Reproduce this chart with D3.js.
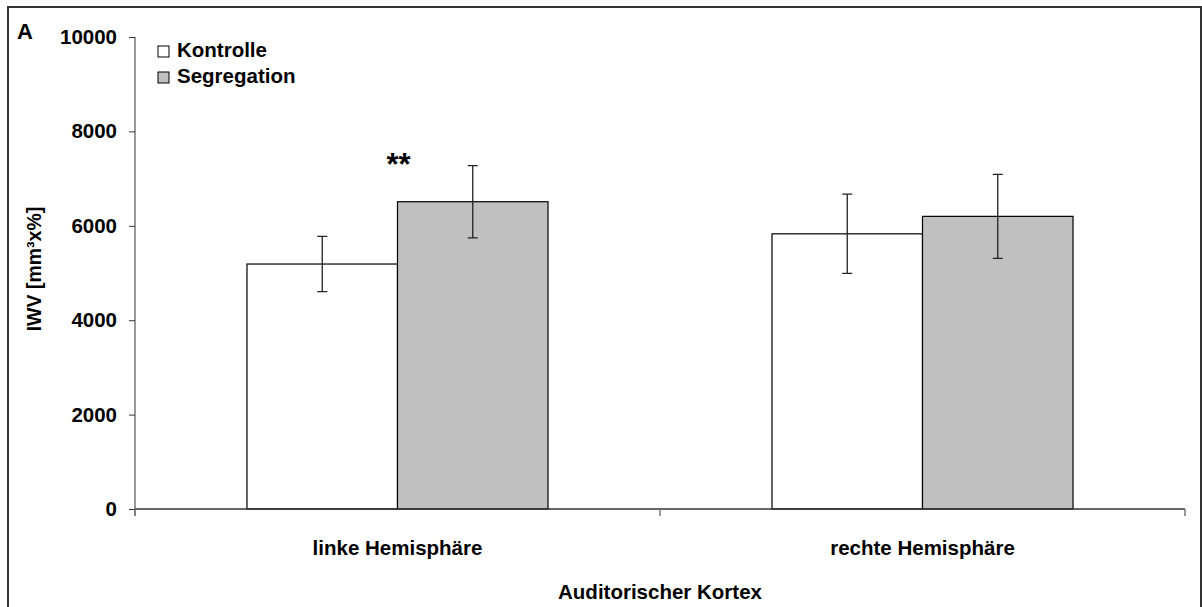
<!DOCTYPE html>
<html>
<head>
<meta charset="utf-8">
<script src="https://cdn.jsdelivr.net/npm/d3@7"></script>
<style>
  body { margin: 0; background: #fff; }
  text { font-family: "Liberation Sans", Arial, sans-serif; font-weight: bold; }
</style>
</head>
<body>
<script>
// data
const categories = ["linke Hemisphäre", "rechte Hemisphäre"];
const seriesNames = ["Kontrolle", "Segregation"];
const kontrolle = [5190, 5830];
const kontrolleErr = [585, 840];
const segregation = [6510, 6200];
const segregationErr = [765, 890];
const yTicks = [0, 2000, 4000, 6000, 8000, 10000];
const fills = ["#ffffff", "#c0c0c0"];

const w = 1202;
const h = 607;
const p = { t: 37, r: 17, b: 98, l: 135 };
const fs = 20.5;

const svg = d3.select("body").append("svg").attr("width", w).attr("height", h);

// frame
svg.append("rect")
  .attr("x", 8).attr("y", 7)
  .attr("width", w - 9).attr("height", h + 10)
  .attr("fill", "none").attr("stroke", "#333").attr("stroke-width", 2);

const x = d3.scaleBand().domain(categories).range([p.l, w - p.r]);
const xs = d3.scaleBand().domain(seriesNames).range([0, x.bandwidth()]).paddingInner(0).paddingOuter(0.744);
const y = d3.scaleLinear().domain([0, 10000]).range([h - p.b, p.t]);

const rows = categories.map((c, i) => ({
  cat: c,
  vals: [
    { s: seriesNames[0], v: kontrolle[i], e: kontrolleErr[i] },
    { s: seriesNames[1], v: segregation[i], e: segregationErr[i] },
  ],
}));

const g = svg.append("g");

// bars
const grp = g.selectAll(".grp").data(rows).enter().append("g")
  .attr("transform", (d) => `translate(${x(d.cat)},0)`);

grp.selectAll("rect").data((d) => d.vals).enter().append("rect")
  .attr("x", (d) => xs(d.s))
  .attr("y", (d) => y(d.v))
  .attr("width", xs.bandwidth())
  .attr("height", (d) => y(0) - y(d.v))
  .attr("fill", (d, i) => fills[i])
  .attr("stroke", "#000")
  .attr("stroke-width", 1.2);

// error bars
grp.selectAll(".err").data((d) => d.vals).enter().append("path")
  .attr("d", (d) => {
    const cx = xs(d.s) + xs.bandwidth() / 2;
    const t = y(d.v + d.e), b = y(d.v - d.e);
    return `M${cx - 5},${t}H${cx + 5}M${cx},${t}V${b}M${cx - 5},${b}H${cx + 5}`;
  })
  .attr("fill", "none")
  .attr("stroke", "#222")
  .attr("stroke-width", 1.3);

// significance
svg.append("text")
  .attr("x", x(categories[0]) + x.bandwidth() / 2 + 1)
  .attr("y", y(7080))
  .attr("text-anchor", "middle")
  .attr("font-size", 31)
  .text("**");

// y axis
const yAxis = svg.append("g")
  .attr("transform", `translate(${p.l},0)`)
  .call(d3.axisLeft(y).tickValues(yTicks).tickSize(6).tickPadding(12).tickFormat(d3.format("d")));
yAxis.select(".domain").attr("stroke", "#777").attr("stroke-width", 1.5)
  .attr("d", `M0,${y(10000)}V${y(0) + 7}`);
yAxis.selectAll(".tick line").attr("stroke", "#333");
yAxis.selectAll(".tick text").attr("font-size", fs).attr("fill", "#000")
  .style("font-family", "'Liberation Sans', Arial, sans-serif").style("font-weight", "bold");

// x axis
const xAxis = svg.append("g")
  .attr("transform", `translate(0,${y(0)})`);
xAxis.append("line")
  .attr("x1", p.l).attr("x2", w - p.r)
  .attr("stroke", "#333").attr("stroke-width", 1.5);
const bounds = [x(categories[0]), x(categories[1]), x(categories[1]) + x.bandwidth()];
xAxis.selectAll(".xt").data(bounds).enter().append("line")
  .attr("x1", (d) => d).attr("x2", (d) => d)
  .attr("y1", 0).attr("y2", 7)
  .attr("stroke", "#777").attr("stroke-width", 1.5);
xAxis.selectAll(".xl").data(categories).enter().append("text")
  .attr("x", (d) => x(d) + x.bandwidth() / 2)
  .attr("y", 46)
  .attr("text-anchor", "middle")
  .attr("font-size", fs)
  .text((d) => d);

// axis titles
svg.append("text")
  .attr("x", (p.l + w - p.r) / 2)
  .attr("y", 599)
  .attr("text-anchor", "middle")
  .attr("font-size", fs)
  .text("Auditorischer Kortex");

svg.append("text")
  .attr("transform", `translate(41,${269}) rotate(-90)`)
  .attr("text-anchor", "middle")
  .attr("font-size", 19.5)
  .text("IWV [mm³x%]");

// panel letter
svg.append("text")
  .attr("x", 17).attr("y", 39)
  .attr("font-size", 22)
  .text("A");

// legend
const legend = svg.append("g").attr("transform", "translate(158,46)");
legend.selectAll("rect").data(seriesNames).enter().append("rect")
  .attr("x", 0).attr("y", (d, i) => i * 26)
  .attr("width", 11).attr("height", 11)
  .attr("fill", (d, i) => fills[i])
  .attr("stroke", "#000").attr("stroke-width", 1);
legend.selectAll("text").data(seriesNames).enter().append("text")
  .attr("x", 19).attr("y", (d, i) => i * 26 + 11)
  .attr("font-size", fs)
  .text((d) => d);
</script>
</body>
</html>
